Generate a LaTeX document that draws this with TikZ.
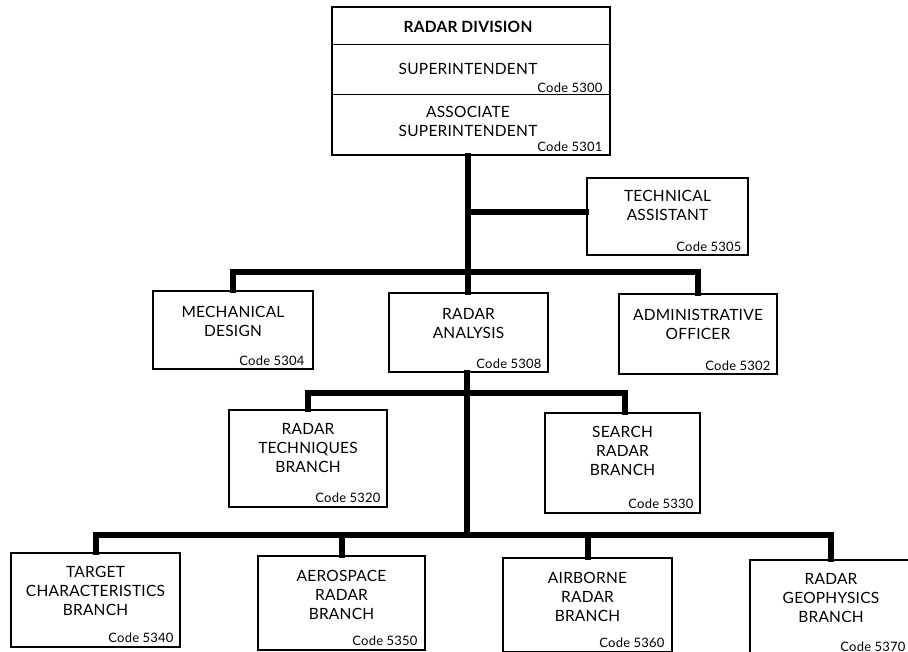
\documentclass[tikz,border=0pt]{standalone}
\usepackage{fontspec}
\setmainfont{Lato}[LetterSpace=1.5]
\usetikzlibrary{positioning}
\tikzset{
  orgbox/.style={draw, line width=1.2pt, inner sep=0pt},
  title/.style={inner sep=0pt, align=center, font=\fontsize{15.5}{19}\selectfont},
  codeno/.style={inner sep=0pt, font=\fontsize{13}{15}\selectfont},
  bar/.style={line width=6pt, line join=miter, line cap=rect}
}

\begin{document}
\begin{tikzpicture}[x=1pt, y=-1pt]
  \useasboundingbox (0,0) rectangle (908,652);
  \clip (0,0) rectangle (908,652);

  % Division head
  \node[orgbox, minimum width=278, minimum height=148] (div) at (471,81) {};
  \draw[line width=1.2pt] ([yshift=-38pt]div.north west) -- ([yshift=-38pt]div.north east);
  \draw[line width=1.2pt] ([yshift=-88pt]div.north west) -- ([yshift=-88pt]div.north east);
  \node[title, font=\fontsize{15.5}{19}\selectfont\bfseries] (divname) at (468,27) {RADAR DIVISION};
  \node[title] (supt) at (468,69) {SUPERINTENDENT};
  \node[codeno, above left=63pt and 8pt of div.south east] (c5300) {Code 5300};
  \node[title] (assoc) at (468,121) {ASSOCIATE\\SUPERINTENDENT};
  \node[codeno, above left=4pt and 8pt of div.south east] (c5301) {Code 5301};

  % Staff
  \node[orgbox, minimum width=161, minimum height=77] (tech) at (667.5,216.5) {};
  \node[title, below=13pt of tech.north] {TECHNICAL\\ASSISTANT};
  \node[codeno, above left=4pt and 7pt of tech.south east] {Code 5305};

  \node[orgbox, minimum width=160, minimum height=78] (mech) at (233,330) {};
  \node[title, below=16pt of mech.north] {MECHANICAL\\DESIGN};
  \node[codeno, above left=4pt and 9pt of mech.south east] {Code 5304};

  \node[orgbox, minimum width=159, minimum height=79] (anal) at (468.5,332.5) {};
  \node[title, below=16pt of anal.north] {RADAR\\ANALYSIS};
  \node[codeno, above left=4pt and 7pt of anal.south east] {Code 5308};

  \node[orgbox, minimum width=158, minimum height=80] (admin) at (698,334) {};
  \node[title, below=16pt of admin.north] {ADMINISTRATIVE\\OFFICER};
  \node[codeno, above left=4pt and 7pt of admin.south east] {Code 5302};

  % Branches
  \node[orgbox, minimum width=158, minimum height=97] (tech2) at (308,458.5) {};
  \node[title, below=14pt of tech2.north] {RADAR\\TECHNIQUES\\BRANCH};
  \node[codeno, above left=5pt and 7pt of tech2.south east] {Code 5320};

  \node[orgbox, minimum width=155, minimum height=100] (search) at (622.5,463) {};
  \node[title, below=14pt of search.north] {SEARCH\\RADAR\\BRANCH};
  \node[codeno, above left=5pt and 7pt of search.south east] {Code 5330};

  \node[orgbox, minimum width=169, minimum height=94] (target) at (95.5,600) {};
  \node[title, below=14pt of target.north] {TARGET\\CHARACTERISTICS\\BRANCH};
  \node[codeno, above left=5pt and 7pt of target.south east] {Code 5340};

  \node[orgbox, minimum width=167, minimum height=94] (aero) at (341.5,603) {};
  \node[title, below=15pt of aero.north] {AEROSPACE\\RADAR\\BRANCH};
  \node[codeno, above left=5pt and 8pt of aero.south east] {Code 5350};

  \node[orgbox, minimum width=169, minimum height=94] (air) at (587.5,605) {};
  \node[title, below=15pt of air.north] {AIRBORNE\\RADAR\\BRANCH};
  \node[codeno, above left=5pt and 8pt of air.south east] {Code 5360};

  \node[orgbox, minimum width=162, minimum height=96] (geo) at (831,608) {};
  \node[title, below=14pt of geo.north] {RADAR\\GEOPHYSICS\\BRANCH};
  \node[codeno, above left=5pt and 7pt of geo.south east] {Code 5370};

  % Connectors
  \coordinate (jta) at (468,212);
  \coordinate (jmain) at (468,272);
  \coordinate (jsec) at (467,393);
  \coordinate (jbot) at (467,535);
  \draw[bar] (div.south -| jta) -- (anal.north -| jta);
  \draw[bar] (jta) -- (jta -| tech.west);
  \draw[bar] (mech.north) -- (mech.north |- jmain) -- (admin.north |- jmain) -- (admin.north);
  \draw[bar] (anal.south -| jbot) -- (jbot);
  \draw[bar] (tech2.north) -- (tech2.north |- jsec) -- ([xshift=2pt]search.north |- jsec) -- ([xshift=2pt]search.north);
  \draw[bar] (target.north) -- (target.north |- jbot) -- (geo.north |- jbot) -- (geo.north);
  \draw[bar] (aero.north |- jbot) -- (aero.north);
  \draw[bar] (air.north |- jbot) -- (air.north);
\end{tikzpicture}
\end{document}
